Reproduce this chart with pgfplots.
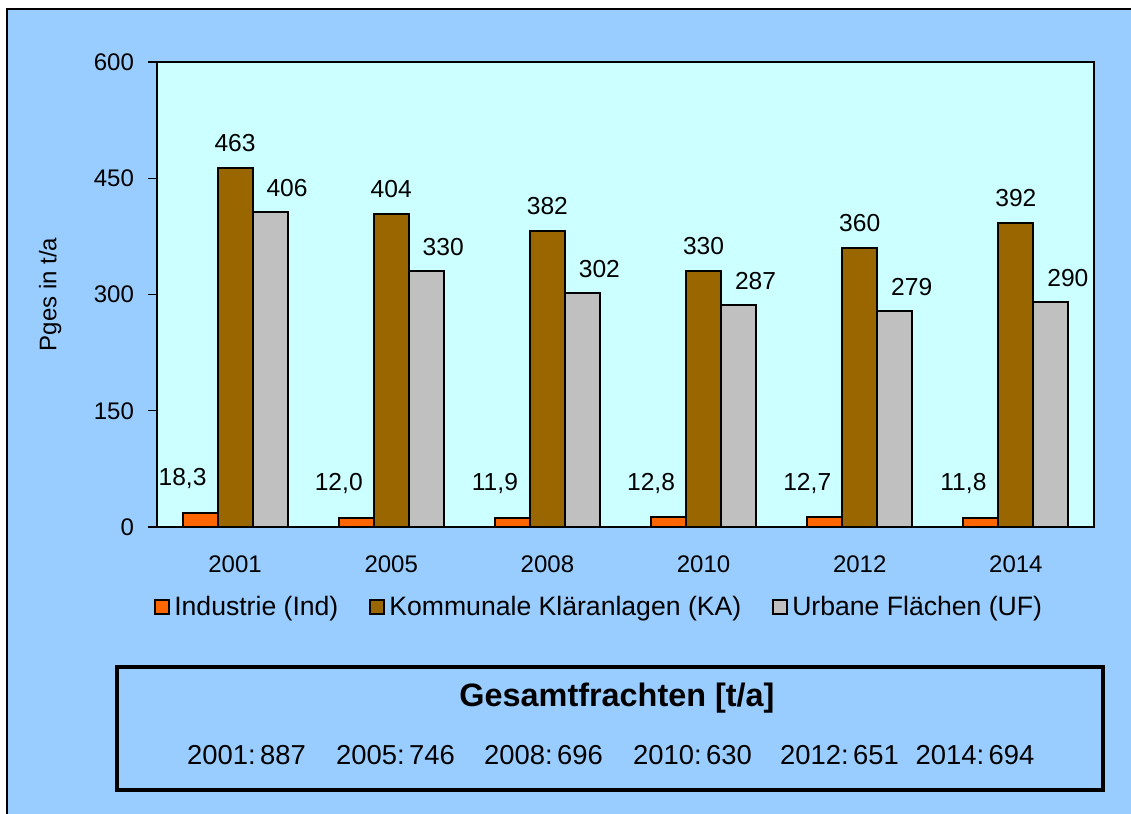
\documentclass[border=0pt]{standalone}
\usepackage{fontspec}
\setmainfont{Liberation Sans}
\usepackage{pgfplots}
\pgfplotsset{compat=1.18}
\definecolor{outerbg}{HTML}{99CCFF}
\definecolor{plotbg}{HTML}{CCFFFF}
\definecolor{cind}{HTML}{FF6600}
\definecolor{cka}{HTML}{996600}
\definecolor{cuf}{HTML}{C0C0C0}
\begin{document}
\begin{tikzpicture}[x=0.5pt,y=0.5pt]
\useasboundingbox (0,0) rectangle (1131,814);
\fill[outerbg] (7,0) rectangle (1131,805);
\draw[black, line width=0.8pt] (7,0) -- (7,805) -- (1131,805);
\begin{axis}[
  at={(78.5pt,143.5pt)}, anchor=south west,
  scale only axis, width=468.5pt, height=232.5pt,
  ybar=0pt, bar width=17.5pt,
  xmin=-0.5, xmax=5.5, ymin=0, ymax=600,
  xtick=data, xticklabels={2001,2005,2008,2010,2012,2014},
  ytick={0,150,300,450,600},
  ytick pos=left, tick align=outside,
  major tick length=4.5pt,
  x tick style={draw=none},
  y tick style={black, line width=0.6pt},
  axis line style={black, line width=0.6pt},
  axis background/.style={fill=plotbg},
  /pgf/number format/assume math mode=true,
  tick label style={font=\fontsize{12}{14}\selectfont},
  xticklabel style={yshift=-6.5pt},
  yticklabel style={xshift=-3.5pt},
  ylabel={Pges in t/a},
  ylabel style={font=\fontsize{12}{14}\selectfont, at={(axis description cs:-0.114,0.5)}, anchor=center},
  nodes near coords,
  every node near coord/.append style={font=\fontsize{12.3}{14}\selectfont, anchor=center},
  legend columns=3,
  legend style={draw=none, fill=none, at={(0.473,-0.172)}, anchor=center,
    font=\fontsize{13.3}{15}\selectfont,
    /tikz/every even column/.append style={column sep=13.5pt}},
]
\addplot[fill=cind, draw=black, line width=1pt,
  legend image code/.code={\draw[fill=cind, draw=black, line width=1pt] (0pt,-3.5pt) rectangle (7pt,3.5pt);},
  nodes near coords={\pgfmathprintnumber[fixed,fixed zerofill,precision=1,use comma]{\pgfplotspointmeta}},
  every node near coord/.append style={xshift=-8.75pt, yshift=17pt}]
  coordinates {(0,18.3) (1,12.0) (2,11.9) (3,12.8) (4,12.7) (5,11.8)};
\addlegendentry{Industrie (Ind)}
\addplot[fill=cka, draw=black, line width=1pt,
  legend image code/.code={\draw[fill=cka, draw=black, line width=1pt] (0pt,-3.5pt) rectangle (7pt,3.5pt);},
  every node near coord/.append style={yshift=12.5pt}]
  coordinates {(0,463) (1,404) (2,382) (3,330) (4,360) (5,392)};
\addlegendentry{Kommunale Kläranlagen (KA)}
\addplot[fill=cuf, draw=black, line width=1pt,
  legend image code/.code={\draw[fill=cuf, draw=black, line width=1pt] (0pt,-3.5pt) rectangle (7pt,3.5pt);},
  every node near coord/.append style={xshift=8.5pt, yshift=12pt}]
  coordinates {(0,406) (1,330) (2,302) (3,287) (4,279) (5,290)};
\addlegendentry{Urbane Flächen (UF)}
\end{axis}
\draw[black, line width=2pt] (117,24) rectangle (1103,147);
\node[font=\fontsize{16.2}{19}\selectfont\bfseries] at (617,116) {Gesamtfrachten [t/a]};
\begin{scope}[every node/.style={font=\fontsize{13.7}{16}\selectfont}]
\node at (246.5,59) {2001:\,887};
\node at (395.5,59) {2005:\,746};
\node at (543.5,59) {2008:\,696};
\node at (692.5,59) {2010:\,630};
\node at (839.5,59) {2012:\,651};
\node at (975,59) {2014:\,694};
\end{scope}
\end{tikzpicture}
\end{document}
